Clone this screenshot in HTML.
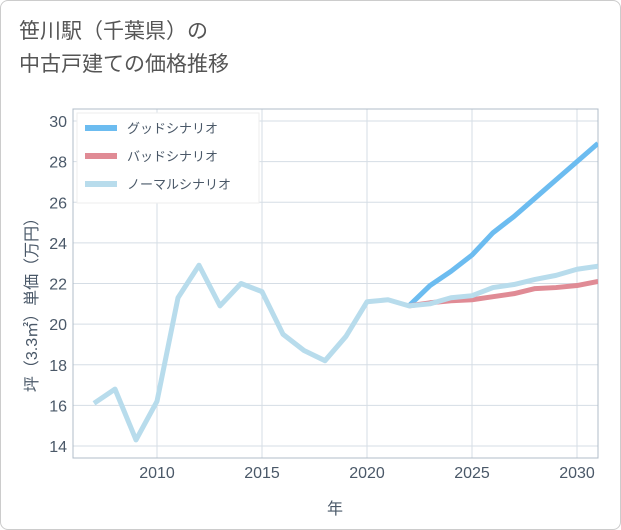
<!DOCTYPE html>
<html><head><meta charset="utf-8"><style>
body{margin:0;background:#fff;font-family:"Liberation Sans","Noto Sans CJK JP",sans-serif;}
#wrap{position:relative;width:619px;height:528px;border:1px solid #ccc;border-radius:8px;overflow:hidden;}
#title{position:absolute;left:18px;top:14px;font-size:21px;line-height:33px;color:#555;}
svg{position:absolute;left:0;top:0;}
</style></head><body>
<div id="wrap">
<div id="title">笹川駅（千葉県）の<br>中古戸建ての価格推移</div>
<svg id="chart" width="621" height="530"></svg>
</div>
<script>
const years=[2007,2008,2009,2010,2011,2012,2013,2014,2015,2016,2017,2018,2019,2020,2021,2022,2023,2024,2025,2026,2027,2028,2029,2030,2031];
const normal=[16.1,16.8,14.3,16.2,21.3,22.9,20.9,22.0,21.6,19.5,18.7,18.2,19.4,21.1,21.2,20.9,21.0,21.3,21.4,21.8,21.95,22.2,22.4,22.7,22.85];
const goodYears=[2022,2023,2024,2025,2026,2027,2028,2029,2030,2031];
const good=[20.9,21.9,22.6,23.4,24.5,25.3,26.2,27.1,28.0,28.9];
const bad=[20.9,21.05,21.15,21.2,21.35,21.5,21.75,21.8,21.9,22.1];
const xTicks=[2010,2015,2020,2025,2030];
const yTicks=[14,16,18,20,22,24,26,28,30];
const NS='http://www.w3.org/2000/svg';
const svg=document.getElementById('chart');
const L=72,R=597,T=108,B=457;
const TXT='#4a5868';
const x=v=>L+(v-2006)*(R-L)/25;
const y=v=>445+(v-14)*(120-445)/16;
function mk(t,a,p){const e=document.createElementNS(NS,t);for(const k in a)e.setAttribute(k,a[k]);(p||svg).appendChild(e);return e;}
const grid=mk('g',{});


xTicks.forEach(t=>{
 mk('line',{x1:x(t),x2:x(t),y1:T,y2:B,stroke:'#d5dde5','stroke-width':1},grid);
 const tx=mk('text',{x:x(t),y:477,'text-anchor':'middle','font-size':16,fill:TXT});
 tx.textContent=t;
 
 
});
yTicks.forEach(t=>{
 mk('line',{x1:L,x2:R,y1:y(t),y2:y(t),stroke:'#d5dde5','stroke-width':1},grid);
 const tx=mk('text',{x:66,y:y(t)+6,'text-anchor':'end','font-size':16,fill:TXT});
 tx.textContent=t;
 
 
});
const frame=mk('rect',{x:L,y:T,width:R-L,height:B-T,fill:'none',stroke:'#b0bcc8'});


const xt=mk('text',{x:334,y:513,'text-anchor':'middle','font-size':16,fill:TXT});xt.textContent='年';


const yt=mk('text',{x:0,y:0,'text-anchor':'middle','font-size':16,fill:TXT,transform:'translate(36,300) rotate(-90)'});yt.textContent='坪（3.3㎡）単価（万円）';


const clip=mk('clipPath',{id:'c'});mk('rect',{x:L,y:T,width:R-L,height:B-T},clip);
function line(xs,vs,col,name){
 const p=mk('polyline',{points:xs.map((v,i)=>x(v)+','+y(vs[i])).join(' '),fill:'none',stroke:col,'stroke-width':5,'stroke-linejoin':'round','clip-path':'url(#c)'});
 
 
}
line(goodYears,good,'#6cbcf0','good-scenario-line');
line(goodYears,bad,'#e08b95','bad-scenario-line');
line(years,normal,'#b8dcec','normal-scenario-line');
const lg=mk('g',{});


mk('rect',{x:76,y:112,width:182,height:90,fill:'#fff',stroke:'#eee'},lg);
[['グッドシナリオ','#6cbcf0'],['バッドシナリオ','#e08b95'],['ノーマルシナリオ','#b8dcec']].forEach((d,i)=>{
 const g=mk('g',{},lg);
 
 
 const yy=127+i*28;
 mk('line',{x1:84,x2:116,y1:yy,y2:yy,stroke:d[1],'stroke-width':6},g);
 const t=mk('text',{x:126,y:yy+5,'font-size':13,fill:TXT},g);t.textContent=d[0];
});
</script>
</body></html>
